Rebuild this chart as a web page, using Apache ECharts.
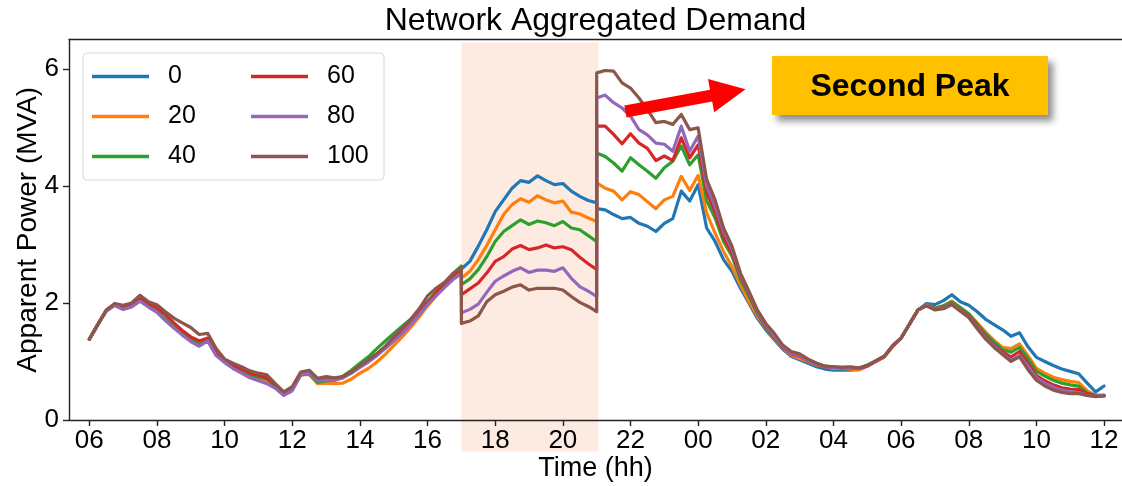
<!DOCTYPE html>
<html>
<head>
<meta charset="utf-8">
<script src="https://cdn.jsdelivr.net/npm/echarts@6/dist/echarts.min.js"></script>
<style>
  html, body { margin: 0; padding: 0; background: #ffffff; }
  #chart { width: 1122px; height: 486px; }
</style>
</head>
<body>
<div id="chart"></div>
<script>
// Aggregated apparent power of the network, 06:00 day 1 to 12:00 day 2,
// sampled every 15 minutes, one curve per EV flexibility share (%).
// Hours are counted from midnight of day 1 (24 = 00:00, 36 = 12:00 next day).
// Each curve is stored in three pieces: 06:00-17:00, 17:00-21:00 (event window)
// and 21:00-12:00; the window edges appear in two pieces, giving the vertical steps.
const STEP = 0.25;
const SEGMENT_BOUNDS = [6, 17, 21, 36];

const shares = ['0', '20', '40', '60', '80', '100'];
const palette = ['#1f77b4', '#ff7f0e', '#2ca02c', '#d62728', '#9467bd', '#8c564b'];

const demand0 = [
  1.38,1.63,1.87,1.97,1.90,1.95,2.05,1.95,1.86,1.72,1.59,1.48,1.37,1.28,1.37,1.13,1.00,0.90,0.82,0.74,0.69,0.64,0.56,0.44,0.52,0.78,0.80,0.66,0.68,0.68,0.73,0.82,0.92,1.02,1.12,1.25,1.38,1.52,1.68,1.84,2.02,2.18,2.33,2.47,2.58,
  2.57,2.71,2.97,3.25,3.56,3.76,3.96,4.09,4.06,4.17,4.09,4.02,4.04,3.91,3.82,3.75,3.71,
  3.61,3.59,3.51,3.44,3.46,3.36,3.31,3.22,3.36,3.44,3.91,3.74,4.02,
  3.28,3.05,2.74,2.54,2.25,2.00,1.74,1.54,1.37,1.21,1.09,1.03,0.97,0.91,0.87,0.85,0.85,0.85,0.86,
  0.92,1.00,1.08,1.26,1.40,1.64,1.88,1.99,1.97,2.04,2.14,2.02,1.96,1.85,1.72,1.63,1.54,1.43,1.49,1.25,1.07,1.00,0.93,0.87,0.83,0.79,0.63,0.48,0.58
];
const demand20 = [
  1.38,1.63,1.87,1.97,1.91,1.94,2.04,1.94,1.85,1.71,1.58,1.47,1.36,1.27,1.36,1.12,0.99,0.90,0.82,0.74,0.70,0.65,0.56,0.44,0.52,0.77,0.78,0.62,0.63,0.62,0.63,0.70,0.80,0.88,0.99,1.12,1.27,1.42,1.58,1.76,1.95,2.12,2.28,2.45,2.57,
  2.42,2.54,2.74,2.98,3.25,3.51,3.68,3.78,3.72,3.83,3.76,3.71,3.74,3.55,3.52,3.45,3.39,
  4.05,3.96,3.91,3.76,3.90,3.85,3.73,3.61,3.76,3.82,4.16,3.92,4.18,
  3.54,3.19,2.88,2.62,2.31,2.03,1.78,1.57,1.39,1.22,1.11,1.05,1.00,0.94,0.91,0.88,0.88,0.87,0.86,
  0.92,1.00,1.08,1.26,1.40,1.64,1.88,1.97,1.91,1.95,2.03,1.92,1.82,1.66,1.50,1.36,1.24,1.22,1.30,1.10,0.88,0.80,0.73,0.69,0.66,0.64,0.50,0.42,0.42
];
const demand40 = [
  1.38,1.63,1.86,1.96,1.89,1.94,2.04,1.95,1.86,1.72,1.59,1.48,1.38,1.29,1.37,1.14,1.01,0.92,0.84,0.77,0.73,0.70,0.58,0.45,0.53,0.77,0.79,0.64,0.67,0.68,0.75,0.85,0.97,1.08,1.22,1.35,1.48,1.60,1.72,1.86,2.02,2.18,2.33,2.50,2.63,
  2.31,2.41,2.57,2.79,3.05,3.22,3.32,3.42,3.34,3.40,3.37,3.32,3.39,3.28,3.25,3.15,3.05,
  4.56,4.50,4.39,4.25,4.48,4.36,4.25,4.13,4.31,4.42,4.68,4.36,4.53,
  3.75,3.45,3.05,2.80,2.40,2.12,1.82,1.58,1.40,1.23,1.14,1.10,1.03,0.97,0.92,0.91,0.90,0.90,0.88,
  0.94,1.01,1.09,1.27,1.40,1.64,1.88,1.97,1.91,1.95,2.02,1.92,1.81,1.64,1.47,1.33,1.20,1.16,1.24,1.05,0.83,0.75,0.68,0.63,0.60,0.58,0.46,0.41,0.41
];
const demand60 = [
  1.38,1.63,1.87,1.98,1.93,1.96,2.07,1.99,1.92,1.80,1.66,1.53,1.42,1.35,1.40,1.17,1.03,0.94,0.87,0.80,0.76,0.72,0.60,0.46,0.54,0.80,0.82,0.68,0.70,0.70,0.74,0.82,0.92,1.02,1.13,1.24,1.38,1.52,1.67,1.83,2.00,2.17,2.32,2.46,2.58,
  2.14,2.24,2.34,2.51,2.71,2.79,2.92,2.98,2.91,2.94,2.99,2.94,2.96,2.91,2.78,2.67,2.57,
  5.02,5.02,4.88,4.72,4.89,4.73,4.64,4.43,4.51,4.43,4.82,4.48,4.70,
  3.90,3.55,3.12,2.85,2.45,2.16,1.84,1.60,1.42,1.24,1.13,1.09,1.01,0.95,0.91,0.90,0.89,0.89,0.88,
  0.92,1.00,1.08,1.26,1.40,1.64,1.88,1.96,1.90,1.92,1.99,1.88,1.78,1.60,1.43,1.28,1.16,1.08,1.17,0.97,0.76,0.67,0.60,0.55,0.53,0.52,0.45,0.42,0.42
];
const demand80 = [
  1.38,1.63,1.86,1.96,1.89,1.93,2.03,1.93,1.84,1.70,1.57,1.45,1.34,1.26,1.35,1.10,0.98,0.88,0.80,0.72,0.67,0.62,0.54,0.42,0.50,0.77,0.80,0.67,0.68,0.68,0.72,0.80,0.90,0.99,1.10,1.22,1.35,1.48,1.63,1.80,1.97,2.12,2.26,2.40,2.50,
  1.83,1.89,1.98,2.18,2.37,2.46,2.54,2.60,2.52,2.56,2.56,2.54,2.60,2.42,2.28,2.20,2.11,
  5.50,5.55,5.42,5.33,5.19,4.96,4.87,4.73,4.71,4.59,5.02,4.59,4.85,
  4.00,3.65,3.22,2.92,2.48,2.18,1.86,1.62,1.44,1.25,1.14,1.10,1.02,0.95,0.91,0.90,0.89,0.89,0.88,
  0.93,1.01,1.09,1.27,1.40,1.64,1.88,1.96,1.89,1.91,1.98,1.87,1.76,1.58,1.40,1.26,1.13,1.02,1.10,0.92,0.72,0.63,0.56,0.51,0.48,0.47,0.42,0.41,0.42
];
const demand100 = [
  1.38,1.63,1.88,1.99,1.96,2.00,2.13,2.02,1.97,1.85,1.74,1.66,1.58,1.46,1.48,1.22,1.04,0.97,0.91,0.84,0.80,0.77,0.62,0.48,0.57,0.82,0.85,0.71,0.74,0.72,0.74,0.82,0.93,1.03,1.13,1.26,1.42,1.57,1.72,1.90,2.12,2.25,2.35,2.50,2.60,
  1.65,1.69,1.78,2.02,2.14,2.20,2.27,2.31,2.22,2.25,2.25,2.25,2.22,2.11,2.01,1.94,1.85,
  5.93,5.97,5.96,5.76,5.67,5.50,5.30,5.08,5.10,5.05,5.22,4.96,4.99,
  4.11,3.76,3.28,2.97,2.51,2.20,1.88,1.65,1.48,1.28,1.17,1.13,1.04,0.97,0.92,0.91,0.90,0.91,0.89,
  0.93,1.01,1.09,1.27,1.40,1.64,1.88,1.95,1.88,1.90,1.97,1.86,1.75,1.56,1.38,1.24,1.12,1.00,1.08,0.86,0.68,0.58,0.51,0.47,0.45,0.45,0.42,0.40,0.41
];
const curves = [demand0, demand20, demand40, demand60, demand80, demand100];

const tickHours = [6, 8, 10, 12, 14, 16, 18, 20, 22, 24, 26, 28, 30, 32, 34, 36];
const tickLabels = ['06', '08', '10', '12', '14', '16', '18', '20', '22', '00', '02', '04', '06', '08', '10', '12'];
const powerTicks = [0, 2, 4, 6];

// Event window [start h, end h, bottom, top] in data units (spills just below the axis).
const eventWindow = [17, 21.05, -0.54, 6.45];
// "Second Peak" arrow, from/to in data units.
const arrowFrom = [21.85, 5.27];
const arrowTo = [25.40, 5.65];

// Sampling instants for the three pieces of each curve.
const hours = [];
for (let k = 0; k < SEGMENT_BOUNDS.length - 1; k++) {
  for (let t = SEGMENT_BOUNDS[k]; t <= SEGMENT_BOUNDS[k + 1] + 1e-9; t += STEP) {
    hours.push(+t.toFixed(2));
  }
}

const FONT = '"Liberation Sans", Arial, Helvetica, sans-serif';
const X_MIN = 5.40, X_MAX = 36.53;

const chart = echarts.init(document.getElementById('chart'), null, { renderer: 'canvas' });

const lineSeries = shares.map((name, i) => ({
  name: name,
  type: 'line',
  data: hours.map((h, j) => [h, curves[i][j]]),
  showSymbol: false,
  symbol: 'none',
  z: 2 + i * 0.01,
  lineStyle: { width: 3.2, color: palette[i], join: 'round', cap: 'round' },
  itemStyle: { color: palette[i] },
  emphasis: { disabled: true }
}));

const legendCommon = {
  orient: 'vertical',
  top: 64,
  padding: 0,
  itemWidth: 57,
  itemHeight: 3.5,
  itemGap: 15,
  icon: 'rect',
  selectedMode: false,
  textStyle: { fontSize: 25, color: '#000', fontFamily: FONT, padding: [0, 0, 0, 14] }
};

chart.setOption({
  animation: false,
  backgroundColor: '#ffffff',
  color: palette,
  grid: { left: 69, right: 0, top: 39.5, bottom: 66, containLabel: false, outerBoundsMode: 'none' },
  xAxis: [
    {
      type: 'value',
      min: X_MIN,
      max: X_MAX,
      name: 'Time (hh)',
      nameLocation: 'middle',
      nameGap: 35,
      nameMoveOverlap: false,
      nameTextStyle: { fontSize: 27, color: '#000', fontFamily: FONT },
      axisLine: { show: true, onZero: false, lineStyle: { color: '#222', width: 1.4 } },
      axisTick: { show: true, length: 6, customValues: tickHours, lineStyle: { color: '#222', width: 1.4 } },
      axisLabel: {
        customValues: tickHours,
        margin: 8,
        fontSize: 26,
        color: '#000',
        fontFamily: FONT,
        formatter: (v) => tickLabels[tickHours.indexOf(v)]
      },
      splitLine: { show: false }
    },
    {
      type: 'value',
      position: 'top',
      min: X_MIN,
      max: X_MAX,
      axisLine: { show: true, onZero: false, lineStyle: { color: '#222', width: 1.4 } },
      axisTick: { show: false },
      axisLabel: { show: false },
      splitLine: { show: false }
    }
  ],
  yAxis: {
    type: 'value',
    min: 0,
    max: 6.5,
    name: 'Apparent Power (MVA)',
    nameLocation: 'middle',
    nameRotate: 90,
    nameGap: 27,
    nameMoveOverlap: false,
    nameTextStyle: { fontSize: 28, color: '#000', fontFamily: FONT },
    axisLine: { show: true, onZero: false, lineStyle: { color: '#222', width: 1.4 } },
    axisTick: { show: true, length: 6, customValues: powerTicks, lineStyle: { color: '#222', width: 1.4 } },
    axisLabel: {
      customValues: powerTicks,
      margin: 10,
      fontSize: 26,
      color: '#000',
      fontFamily: FONT
    },
    splitLine: { show: false }
  },
  legend: [
    Object.assign({}, legendCommon, { left: 92, data: shares.slice(0, 3) }),
    Object.assign({}, legendCommon, { left: 251, data: shares.slice(3) })
  ],
  series: [
    {
      type: 'custom',
      z: -1,
      silent: true,
      clip: false,
      data: [eventWindow],
      renderItem: (params, api) => {
        const p0 = api.coord([api.value(0), api.value(3)]);
        const p1 = api.coord([api.value(1), api.value(2)]);
        return {
          type: 'rect',
          shape: { x: p0[0], y: p0[1], width: p1[0] - p0[0], height: p1[1] - p0[1] },
          style: { fill: '#FDEBE2' }
        };
      }
    }
  ].concat(lineSeries)
});

// Arrow shape in pixels, derived from its data-space endpoints.
function arrowPoints(from, to, shaftHalf, headHalf, headLen) {
  const dx = to[0] - from[0], dy = to[1] - from[1];
  const len = Math.hypot(dx, dy);
  const ux = dx / len, uy = dy / len;
  const nx = -uy, ny = ux;
  const bx = to[0] - ux * headLen, by = to[1] - uy * headLen;
  return [
    [from[0] + nx * shaftHalf, from[1] + ny * shaftHalf],
    [bx + nx * shaftHalf, by + ny * shaftHalf],
    [bx + nx * headHalf, by + ny * headHalf],
    [to[0], to[1]],
    [bx - nx * headHalf, by - ny * headHalf],
    [bx - nx * shaftHalf, by - ny * shaftHalf],
    [from[0] - nx * shaftHalf, from[1] - ny * shaftHalf]
  ];
}

const finder = { xAxisIndex: 0, yAxisIndex: 0 };
const tailPx = chart.convertToPixel(finder, arrowFrom);
const tipPx = chart.convertToPixel(finder, arrowTo);
const plotCenterX = chart.convertToPixel(finder, [(X_MIN + X_MAX) / 2, 0])[0];

chart.setOption({
  graphic: [
    {
      type: 'text',
      z: 10,
      x: plotCenterX,
      y: 21.5,
      style: {
        text: 'Network Aggregated Demand',
        font: '32px ' + FONT,
        fill: '#000',
        align: 'center',
        verticalAlign: 'middle'
      }
    },
    {
      type: 'rect',
      z: 3,
      silent: true,
      shape: { x: 83, y: 53, width: 301, height: 127, r: 4 },
      style: { fill: 'rgba(255,255,255,0.85)', stroke: '#d8d8d8', lineWidth: 1 }
    },
    {
      type: 'polygon',
      z: 10,
      silent: true,
      shape: { points: arrowPoints(tailPx, tipPx, 6, 17, 35) },
      style: { fill: '#ff0000' }
    },
    {
      type: 'rect',
      z: 10,
      silent: true,
      shape: { x: 772, y: 56, width: 276, height: 59 },
      style: {
        fill: '#FFC000',
        shadowColor: 'rgba(0,0,0,0.45)',
        shadowBlur: 7,
        shadowOffsetX: 5,
        shadowOffsetY: 6
      }
    },
    {
      type: 'text',
      z: 11,
      silent: true,
      x: 910,
      y: 87,
      style: {
        text: 'Second Peak',
        font: 'bold 32px ' + FONT,
        fill: '#000',
        align: 'center',
        verticalAlign: 'middle'
      }
    }
  ]
});
</script>
</body>
</html>
